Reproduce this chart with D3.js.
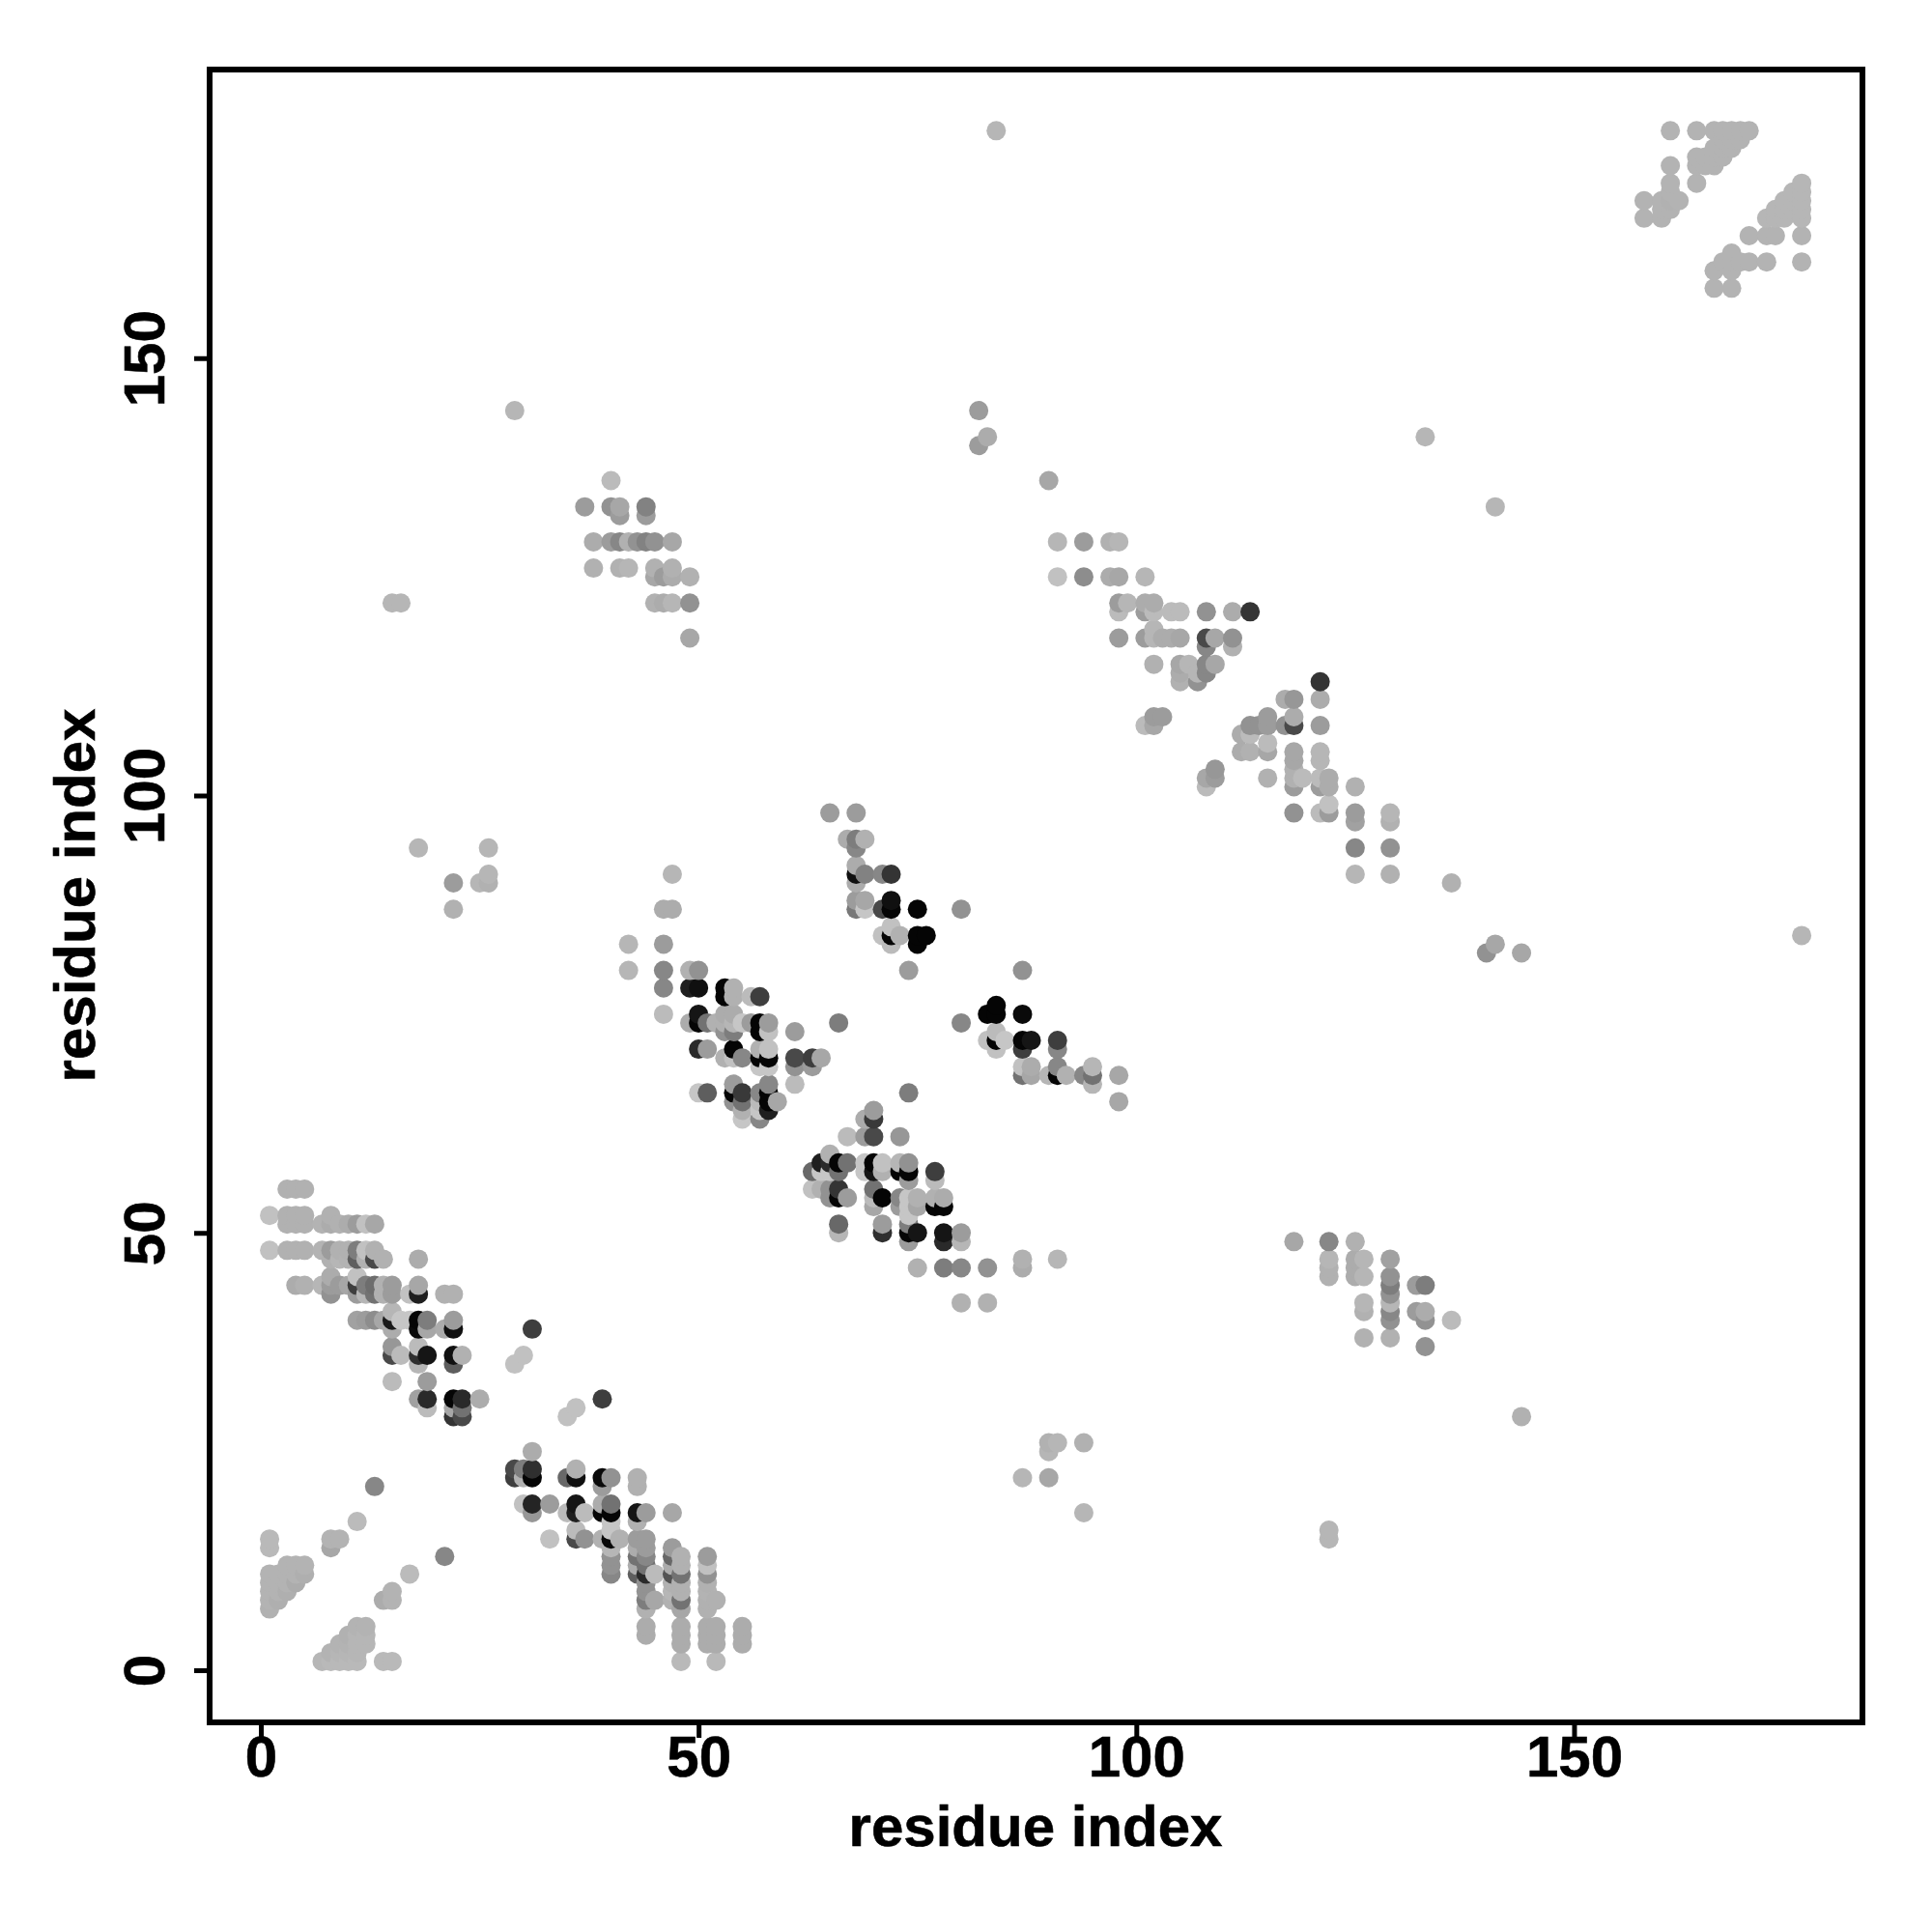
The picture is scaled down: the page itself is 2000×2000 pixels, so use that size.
<!DOCTYPE html>
<html><head><meta charset="utf-8">
<script src="https://cdn.jsdelivr.net/npm/d3@7/dist/d3.min.js"></script>
<style>html,body{margin:0;padding:0;background:#fff}svg{display:block}text{font-family:"Liberation Sans",Arial,sans-serif;font-weight:bold;fill:#000}</style>
</head><body><svg id="c" width="2000" height="2000"></svg>
<script>
// Each entry: [residue i, residue j, shade level]
const helixA = [
[3,55,170],[4,55,170],[5,55,170],[1,52,185],[3,52,170],[4,52,170],[5,52,170],[8,52,170],
[3,51,170],[4,51,170],[5,51,170],[7,51,172],[8,51,165],[9,51,170],[10,51,165],[11,51,150],[12,51,185],[13,51,160],
[1,48,185],[3,48,170],[4,48,170],[5,48,170],[7,48,172],[8,48,150],[9,48,170],[10,48,170],[11,48,120],[12,48,185],[13,48,170],
[8,47,170],[9,47,175],[10,47,172],[11,47,90],[12,47,170],[13,47,70],[14,47,170],[18,47,165],
[8,45,165],[11,45,185],[4,44,165],[5,44,170],[7,44,175],[8,44,150],[9,44,150],[10,44,160],[11,44,60],[12,44,120],[13,44,105],[14,44,170],[15,44,150],[18,44,160],
[8,43,140],[11,43,150],[12,43,175],[13,43,110],[14,43,170],[15,43,150],[17,43,185],[18,43,30],[21,43,170],[22,43,170],
[15,41,175],[11,40,155],[12,40,150],[13,40,135],[14,40,160],[15,40,25],[16,40,190],[17,40,190],[18,40,5],[19,40,120],[22,40,150],
[15,39,165],[18,39,10],[19,39,160],[21,39,165],[22,39,15],[31,39,60],
[15,37,145],[18,37,180],[15,36,70],[16,36,180],[18,36,45],[19,36,20],[22,36,15],[23,36,170],[30,36,185],
[18,35,175],[22,35,90],[29,35,185],[15,33,180],[19,33,150],
[18,31,155],[19,31,40],[22,31,5],[23,31,40],[25,31,165],[19,30,180],[22,30,160],[23,30,110],[22,29,50],[23,29,70]
];
const helixB = [
[31,25,165],[29,23,70],[30,23,120],[31,23,45],[36,23,170],[29,22,60],[30,22,170],[31,22,5],[35,22,100],[36,22,15],[39,22,10],[40,22,140],[43,22,170],
[39,21,150],[43,21,170],[30,19,185],[31,19,35],[33,19,150],[36,19,20],[39,19,165],[40,19,110],
[31,18,145],[35,18,180],[36,18,30],[37,18,180],[39,18,5],[40,18,5],[43,18,20],[44,18,150],[47,18,160],
[40,17,190],[43,17,170],[36,16,180],[40,16,190],[33,15,185],[36,15,70],[37,15,140],[39,15,170],[40,15,10],[41,15,170],[43,15,150],[44,15,150],
[40,14,175],[43,14,165],[44,14,150],[47,14,150],[40,13,140],[43,13,110],[44,13,130],[47,13,100],[48,13,170],[51,13,150],
[40,12,140],[43,12,165],[44,12,110],[47,12,165],[48,12,170],[51,12,185],[40,11,130],[43,11,90],[44,11,40],[45,11,180],[47,11,80],[48,11,110],[51,11,140],
[44,10,140],[47,10,170],[48,10,170],[51,10,170],[44,9,140],[47,9,175],[48,9,170],[51,9,172],[44,8,120],[45,8,160],[47,8,170],[48,8,110],[51,8,170],[52,8,170],
[44,7,170],[48,7,160],[51,7,170],[44,5,165],[48,5,165],[51,5,165],[52,5,165],[55,5,165],[44,4,165],[48,4,165],[51,4,165],[52,4,165],[55,4,165],
[48,3,165],[51,3,165],[52,3,165],[55,3,165],[48,1,178],[52,1,178]
];
const cornerLow = [
[1,15,178],[1,14,178],[8,15,172],[9,15,172],[8,14,160],[11,17,180],[13,21,130],[21,13,130],[17,11,180],[15,9,172],[14,8,165],[15,8,172],
[3,12,172],[4,12,172],[5,12,172],[1,11,172],[2,11,172],[3,11,172],[4,11,172],[5,11,168],[1,10,172],[2,10,172],[3,10,172],[4,10,165],
[1,9,172],[2,9,172],[3,9,168],[1,8,172],[2,8,168],[1,7,170],
[11,5,172],[12,5,172],[10,4,170],[11,4,175],[12,4,175],[9,3,172],[10,3,172],[11,3,175],[12,3,175],[8,2,172],[9,2,175],[10,2,175],[11,2,175],
[7,1,175],[8,1,178],[9,1,178],[10,1,178],[11,1,178],[14,1,178],[15,1,178]
];
const sheetC = [
[42,83,175],[46,83,150],[42,80,175],[46,80,130],[49,80,170],[50,80,140],[46,78,130],[49,78,30],[50,78,15],[53,78,5],[54,78,170],[53,77,5],[54,77,170],[56,77,180],[57,77,60],
[46,75,180],[50,75,20],[53,75,165],[54,75,165],[49,74,165],[50,74,5],[51,74,110],[52,74,170],[53,74,170],[54,74,175],[55,74,190],[56,74,150],[57,74,5],[58,74,150],[66,74,120],
[53,73,140],[54,73,120],[57,73,5],[58,73,185],[61,73,150],[50,71,40],[51,71,150],[54,71,5],[57,71,170],[58,71,185],
[53,70,170],[54,70,185],[55,70,130],[57,70,5],[58,70,5],[61,70,70],[63,70,60],[64,70,160],[57,69,190],[58,69,190],[61,69,140],[63,69,150],
[54,67,150],[58,67,130],[61,67,180],[50,66,190],[51,66,90],[54,66,5],[55,66,55],[57,66,130],[58,66,5],[54,65,140],[55,65,110],[57,65,180],[58,65,5],[59,65,160],
[55,64,170],[57,64,190],[58,64,30],[55,63,190],[57,63,130]
];
const sheetD = [
[74,66,120],[70,64,150],[69,63,165],[70,63,55],[67,61,180],[69,61,150],[70,61,70],[73,61,145],[65,59,170],
[64,58,30],[65,58,40],[66,58,5],[67,58,110],[69,58,190],[70,58,5],[71,58,185],[73,58,175],[74,58,140],
[63,57,100],[64,57,190],[65,57,190],[66,57,110],[69,57,190],[70,57,20],[71,57,170],[73,57,5],[74,57,5],[77,57,60],[74,56,150],[77,56,180],
[63,55,185],[64,55,170],[65,55,140],[66,55,50],[70,55,110],[65,54,140],[66,54,5],[67,54,150],[70,54,180],[71,54,5],[73,54,130],[74,54,190],[75,54,170],[77,54,170],[78,54,165],
[70,53,160],[73,53,150],[74,53,190],[75,53,160],[77,53,5],[78,53,5],[74,52,190],[66,51,100],[71,51,150],[74,51,120],
[66,50,175],[71,50,45],[74,50,5],[75,50,20],[78,50,20],[80,50,150],[74,49,150],[78,49,40],[80,49,175],[75,46,170],[78,46,120],[80,46,130],[83,46,140],[80,42,170],[83,42,170]
];
const sheetE = [
[65,98,150],[68,98,150],[67,95,165],[68,95,120],[69,95,170],[68,94,130],[68,92,165],[68,91,15],[69,91,125],[71,91,130],[72,91,50],[68,90,165],
[68,88,150],[69,88,160],[72,88,15],[68,87,115],[69,87,190],[71,87,70],[72,87,5],[75,87,5],[80,87,140],
[72,85,185],[71,84,185],[72,84,5],[73,84,170],[75,84,5],[76,84,5],[72,83,180],[75,83,5],[74,80,150],[87,80,140]
];
const sheetF = [
[84,76,5],[83,75,5],[84,75,5],[87,75,10],[84,73,180],[83,72,185],[84,72,5],[85,72,190],[87,72,5],[88,72,20],[91,72,60],[84,71,185],[87,71,60],[91,71,130],
[87,69,185],[88,69,165],[91,69,130],[95,69,175],[87,68,110],[88,68,160],[90,68,175],[91,68,5],[92,68,170],[94,68,130],[95,68,110],[98,68,160],[95,67,175],[98,65,160],[80,74,130]
];
const bandG = [
[91,129,175],[94,129,150],[97,129,170],[98,129,175],[91,125,185],[94,125,135],[97,125,165],[98,125,160],[101,125,175],
[98,122,150],[99,122,175],[101,122,165],[102,122,165],[98,121,180],[101,121,150],[102,121,180],[104,121,180],[105,121,180],[108,121,140],[111,121,165],[113,121,50],
[102,119,175],[98,118,150],[101,118,150],[102,118,175],[103,118,165],[104,118,165],[105,118,160],[108,118,70],[109,118,160],[111,118,140],[108,117,130],[111,117,170],
[102,115,170],[105,115,160],[106,115,175],[108,115,130],[109,115,160],[105,114,165],[107,114,175],[108,114,130],[105,113,170],[107,113,140],
[102,109,150],[103,109,150],[101,108,180],[102,108,160]
];
const bandH = [
[121,113,50],[117,111,165],[118,111,145],[121,111,165],[115,109,150],[118,109,165],[113,108,140],[114,108,140],[115,108,150],[117,108,140],[118,108,70],[121,108,150],
[112,107,165],[113,107,180],[115,106,180],[112,105,165],[113,105,170],[115,105,160],[118,105,160],[121,105,175],[118,104,160],[121,104,175],[109,103,145],[118,103,170],
[108,102,160],[109,102,150],[115,102,170],[118,102,170],[119,102,180],[121,102,180],[122,102,165],[108,101,180],[118,101,150],[121,101,150],[122,101,165],[125,101,170],
[122,99,185],[118,98,140],[121,98,180],[122,98,150],[125,98,150],[129,98,175],[125,97,155],[129,97,170],[125,94,130],[129,94,140],[125,91,175],[129,91,170]
];
const cornerTop = [
[161,176,172],[164,176,172],[166,176,172],[167,176,172],[168,176,172],[169,176,172],[170,176,172],[167,175,172],[168,175,172],[169,175,172],[166,174,172],[167,174,172],[168,174,172],
[164,173,172],[165,173,172],[166,173,172],[167,173,172],[161,172,172],[164,172,172],[165,172,172],[166,172,172],[161,170,172],[164,170,172],[161,169,172],
[158,168,172],[160,168,172],[161,168,170],[162,168,172],[160,167,172],[161,167,172],[158,166,172],[160,166,172],
[176,170,175],[175,169,175],[176,169,175],[174,168,175],[175,168,175],[176,168,175],[173,167,175],[174,167,175],[175,167,175],[176,167,175],[172,166,175],[173,166,175],[174,166,175],[176,166,175],
[170,164,172],[172,164,172],[173,164,172],[176,164,172],[168,162,172],[167,161,172],[168,161,172],[169,161,172],[170,161,172],[172,161,172],[176,161,172],[166,160,172],[168,160,172],[166,158,172],[168,158,172]
];
const patchI = [
[40,136,180],[37,133,150],[40,133,140],[41,133,160],[44,133,125],[41,132,150],[44,132,150],
[38,129,165],[40,129,150],[41,129,130],[42,129,170],[43,129,140],[44,129,125],[45,129,140],[47,129,160],
[38,126,170],[41,126,170],[42,126,175],[45,126,170],[47,126,170],[45,125,160],[46,125,150],[47,125,165],[49,125,170],
[45,122,170],[46,122,165],[47,122,175],[49,122,140],[49,118,160]
];
const patchJ = [
[118,49,160],[122,49,130],[125,49,170],[122,47,175],[125,47,165],[126,47,175],[129,47,155],[122,46,170],[125,46,165],[122,45,170],[125,45,165],[126,45,175],[129,45,140],
[129,44,120],[132,44,150],[133,44,120],[129,43,140],[126,42,175],[129,42,175],[126,41,170],[129,41,130],[132,41,150],[133,41,165],[129,40,140],[133,40,140],[136,40,180],
[126,38,170],[129,38,170],[133,37,140]
];
const scattered = [
[84,176,175],[29,144,175],[82,144,150],[83,141,165],[82,140,150],[90,136,160],[133,141,175],[141,133,175],[15,122,175],[16,122,175],
[18,94,175],[26,94,175],[26,91,175],[25,90,175],[26,90,170],[22,90,150],[22,87,170],[47,91,175],[46,87,165],[47,87,165],
[136,90,170],[140,82,140],[141,83,160],[144,82,160],[176,84,175],[87,47,170],[87,46,165],[91,47,175],
[90,26,170],[91,26,175],[90,25,175],[94,26,170],[87,22,175],[90,22,160],[94,18,175],[122,16,175],[122,15,175],[144,29,170],
[35,29,185],[36,30,185],[39,31,60]
];
const tickValues = [0, 50, 100, 150];
const axisTitle = "residue index";

const contacts = [helixA, helixB, cornerLow, sheetC, sheetD, sheetE, sheetF, bandG, bandH, cornerTop, patchI, patchJ, scattered]
  .flat()
  .sort((a, b) => d3.ascending(a[0], b[0]) || d3.ascending(a[1], b[1]));

const frame = {left: 217, right: 1928, top: 72, bottom: 1783};
const x = d3.scaleLinear().domain([0, 150]).range([270, 270 + 150 * 9.063]);
const y = d3.scaleLinear().domain([0, 150]).range([1729, 1729 - 150 * 9.055]);
const shade = d3.scaleLinear().domain([0, 245]).range(["#000000", "#ffffff"]);

const svg = d3.select("#c");
svg.append("g").selectAll("circle").data(contacts).join("circle")
  .attr("cx", d => x(d[0])).attr("cy", d => y(d[1])).attr("r", 10)
  .attr("fill", d => shade(d[2]));
svg.append("rect")
  .attr("x", frame.left).attr("y", frame.top)
  .attr("width", frame.right - frame.left).attr("height", frame.bottom - frame.top)
  .attr("fill", "none").attr("stroke", "#000").attr("stroke-width", 6);

const fs = 60;
const gx = svg.append("g").attr("transform", `translate(0,${frame.bottom})`)
  .call(d3.axisBottom(x).tickValues(tickValues).tickSize(16).tickSizeOuter(0).tickPadding(-3));
const gy = svg.append("g").attr("transform", `translate(${frame.left},0)`)
  .call(d3.axisLeft(y).tickValues(tickValues).tickSize(16).tickSizeOuter(0).tickPadding(2));
[gx, gy].forEach(g => {
  g.select(".domain").remove();
  g.selectAll(".tick line").attr("stroke", "#000").attr("stroke-width", 5);
  g.selectAll(".tick text").attr("font-size", fs).style("font-family", '"Liberation Sans",Arial,sans-serif').style("font-weight", "bold").attr("fill", "#000").attr("stroke", "#000").attr("stroke-width", 0.6);
});
gy.selectAll(".tick text")
  .attr("text-anchor", "middle").attr("x", null).attr("dy", null)
  .attr("transform", "translate(-47,0) rotate(-90)");
svg.append("text").attr("x", 1072).attr("y", 1911).attr("text-anchor", "middle").attr("font-size", fs).attr("stroke", "#000").attr("stroke-width", 0.6).text(axisTitle);
svg.append("text").attr("transform", "translate(98,927) rotate(-90)").attr("text-anchor", "middle").attr("font-size", fs).attr("stroke", "#000").attr("stroke-width", 0.6).text(axisTitle);
</script></body></html>
